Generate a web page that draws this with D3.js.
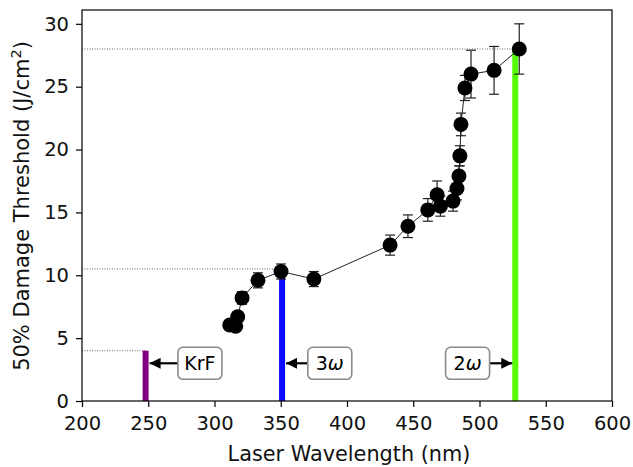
<!DOCTYPE html>
<html><head><meta charset="utf-8">
<script src="https://cdn.jsdelivr.net/npm/d3@7"></script>
<style>body{margin:0;background:#fff}svg{display:block}text{font-family:"DejaVu Sans",sans-serif}</style>
</head><body><svg id="c" width="633" height="467"></svg>
<script>
const wavelengths = [311.5,316,317.5,320.8,332.8,350.2,375,432.5,446,461,468,470.5,480,483,484.5,485.2,486,489,493.6,511,530];
const thresholds  = [6.05,5.95,6.7,8.2,9.6,10.3,9.7,12.4,13.9,15.2,16.4,15.5,15.9,16.9,17.9,19.5,22.0,24.9,26.0,26.3,28.0];
const errors      = [0.3,0.3,0.4,0.5,0.6,0.6,0.6,0.8,0.9,0.9,1.1,0.8,0.8,0.9,0.8,0.8,0.9,1.0,1.9,1.9,2.0];
const barWl      = [248,351,527];
const barHeights = [4,10.5,28];
const barColors  = ["#800080","#0a0aff","#55ff00"];
const annLabels  = ["KrF","3ω","2ω"];
const annTextX   = [289,387,491];
const annY       = 3;
const xTicks = [200,250,300,350,400,450,500,550,600];
const yTicks = [0,5,10,15,20,25,30];

const svg = d3.select("#c");
const m = {l:82,r:612,t:10,b:401};
const x = d3.scaleLinear().domain([200,600]).range([m.l,m.r]);
const y = d3.scaleLinear().domain([0,31.1]).range([m.b,m.t]);

// dotted reference lines
svg.selectAll(".ref").data(barWl).enter().append("line")
  .attr("x1",x(200)).attr("x2",d=>x(d)).attr("y1",(d,i)=>y(barHeights[i])).attr("y2",(d,i)=>y(barHeights[i]))
  .attr("stroke","#444").attr("stroke-width",0.8).attr("stroke-dasharray","1,1.5");

// bars
svg.selectAll(".bar").data(barWl).enter().append("rect")
  .attr("x",d=>x(d)-3).attr("width",6).attr("y",(d,i)=>y(barHeights[i])).attr("height",(d,i)=>y(0)-y(barHeights[i]))
  .attr("fill",(d,i)=>barColors[i]);

// annotations
const defs = svg.append("defs");
defs.append("marker").attr("id","ah").attr("viewBox","0 0 10 10").attr("refX",10).attr("refY",5)
  .attr("markerWidth",11).attr("markerHeight",11).attr("markerUnits","userSpaceOnUse").attr("orient","auto")
  .append("path").attr("d","M0,0L10,5L0,10Z").attr("fill","#000");
annLabels.forEach((lab,i)=>{
  const cx = x(annTextX[i]), cy = y(annY);
  const w = 44, h = 32;
  const toLeft = barWl[i] < annTextX[i];
  const xs = toLeft ? cx - w/2 : cx + w/2;
  const xe = toLeft ? x(barWl[i]) + 4 : x(barWl[i]) - 3;
  svg.append("line").attr("x1",xs).attr("x2",xe).attr("y1",cy).attr("y2",cy)
    .attr("stroke","#000").attr("stroke-width",2.2).attr("marker-end","url(#ah)");
  svg.append("rect").attr("x",cx-w/2).attr("y",cy-h/2).attr("width",w).attr("height",h).attr("rx",5)
    .attr("fill","#fff").attr("stroke","#8a8a8a").attr("stroke-width",1.6);
  const t = svg.append("text").attr("x",cx).attr("y",cy+7).attr("text-anchor","middle").attr("font-size",19).attr("fill","#000");
  if (lab.length===2 && lab[1]==="ω") {
    t.append("tspan").text(lab[0]);
    t.append("tspan").attr("font-style","italic").text("ω");
  } else t.text(lab);
});

// connecting line
svg.append("path").datum(wavelengths)
  .attr("d", d3.line().x(d=>x(d)).y((d,i)=>y(thresholds[i])))
  .attr("fill","none").attr("stroke","#222").attr("stroke-width",1);

// error bars
const eb = svg.selectAll(".eb").data(wavelengths).enter().append("g");
eb.append("line").attr("x1",d=>x(d)).attr("x2",d=>x(d))
  .attr("y1",(d,i)=>y(thresholds[i]-errors[i])).attr("y2",(d,i)=>y(thresholds[i]+errors[i]))
  .attr("stroke","#222").attr("stroke-width",1.2);
[-1,1].forEach(s=>{
  eb.append("line").attr("x1",d=>x(d)-5).attr("x2",d=>x(d)+5)
    .attr("y1",(d,i)=>y(thresholds[i]+s*errors[i])).attr("y2",(d,i)=>y(thresholds[i]+s*errors[i]))
    .attr("stroke","#222").attr("stroke-width",1.2);
});

// markers
svg.selectAll(".pt").data(wavelengths).enter().append("circle")
  .attr("cx",d=>x(d)).attr("cy",(d,i)=>y(thresholds[i])).attr("r",7.5).attr("fill","#000");

// frame
svg.append("rect").attr("x",m.l).attr("y",m.t).attr("width",m.r-m.l).attr("height",m.b-m.t)
  .attr("fill","none").attr("stroke","#000").attr("stroke-width",1.2);

// axes
const xa = svg.append("g").attr("transform",`translate(0,${m.b})`)
  .call(d3.axisBottom(x).tickValues(xTicks).tickSize(6).tickPadding(9).tickFormat(d3.format("d")));
const ya = svg.append("g").attr("transform",`translate(${m.l},0)`)
  .call(d3.axisLeft(y).tickValues(yTicks).tickSize(6).tickPadding(7).tickFormat(d3.format("d")));
[xa,ya].forEach(a=>{
  a.select(".domain").remove();
  a.selectAll("line").attr("stroke","#000").attr("stroke-width",1.2);
  a.selectAll("text").attr("font-size",19.5).attr("fill","#111").style("font-family","DejaVu Sans");
});

svg.append("text").attr("x",(m.l+m.r)/2+2).attr("y",461).attr("text-anchor","middle").attr("font-size",20.8).attr("fill","#111")
  .text("Laser Wavelength (nm)");
const yl = svg.append("text").attr("transform",`translate(29,206) rotate(-90)`).attr("text-anchor","middle")
  .attr("font-size",21).attr("fill","#111");
yl.append("tspan").text("50% Damage Threshold (J/cm");
yl.append("tspan").attr("font-size",14.5).attr("dy",-8).text("2");
yl.append("tspan").attr("dy",8).text(")");
</script></body></html>
